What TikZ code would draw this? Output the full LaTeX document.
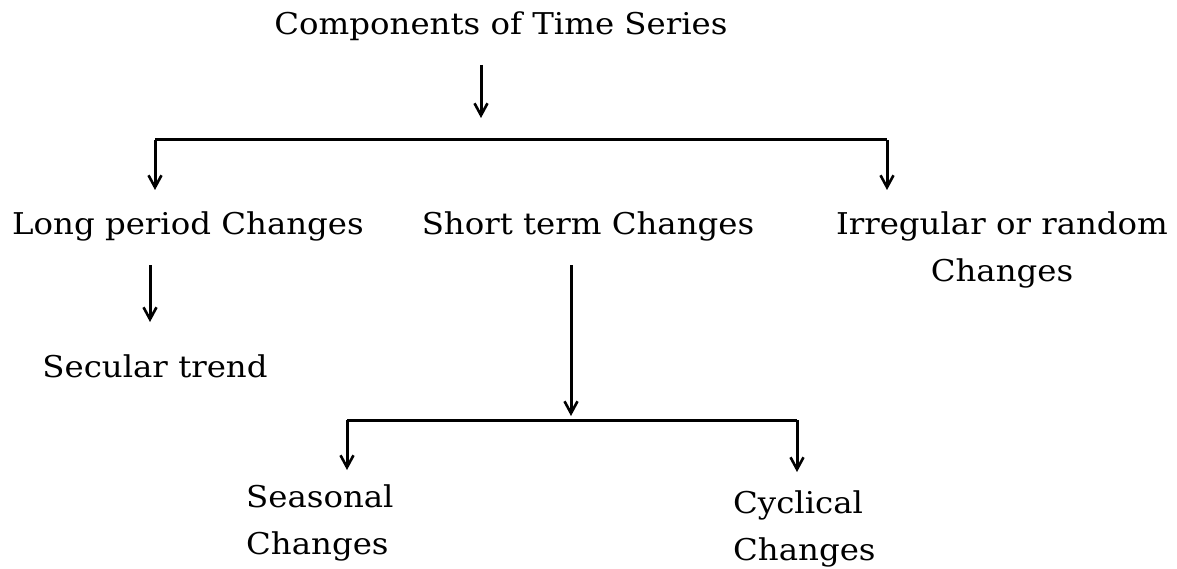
\documentclass[tikz,border=0pt]{standalone}
\usepackage{fontspec}
\setmainfont[FakeStretch=1.08]{DejaVu Serif}
\usetikzlibrary{arrows.meta}
\tikzset{
  lbl/.style={inner sep=0pt, anchor=base, font=\fontsize{30}{47}\selectfont},
  lbl2/.style={inner sep=0pt, align=left, font=\fontsize{30}{47}\selectfont},
  conn/.style={line width=3pt},
  arr/.style={conn, -{Straight Barb[length=12pt,width=13pt,line width=2.6pt]}}
}
\begin{document}
\begin{tikzpicture}[x=1pt,y=-1pt]
\useasboundingbox (0,0) rectangle (1177,569);
\node[lbl] (top) at (501,35) {Components of Time Series};
\node[lbl] (lp) at (188,235) {Long period Changes};
\node[lbl] (st) at (588,235) {Short term Changes};
\node[lbl2, anchor=north, align=center] (ir) at (1002,212) {Irregular or random\\Changes};
\node[lbl] (sec) at (155,377) {Secular trend};
\node[lbl2, anchor=north west] (sea) at (246,485) {Seasonal\\Changes};
\node[lbl2, anchor=north west] (cyc) at (733,491) {Cyclical\\Changes};
\coordinate (a1) at (481,65);
\coordinate (b1) at (481,118);
\coordinate (bl) at (155,140);
\coordinate (br) at (887,140);
\coordinate (blo) at (155,190);
\coordinate (bro) at (887,190);
\coordinate (lps) at (150,265);
\coordinate (lpe) at (150,322);
\coordinate (sts) at (571,265);
\coordinate (ste) at (571,416);
\coordinate (bsl) at (347,420);
\coordinate (bsr) at (797,420);
\coordinate (bslo) at (347,470);
\coordinate (bsro) at (797,472);
\draw[arr] (a1) -- (b1);
\draw[conn] (bl) -- (br);
\draw[arr] (bl) -- (blo);
\draw[arr] (br) -- (bro);
\draw[arr] (lps) -- (lpe);
\draw[arr] (sts) -- (ste);
\draw[conn] (bsl) -- (bsr);
\draw[arr] (bsl) -- (bslo);
\draw[arr] (bsr) -- (bsro);
\end{tikzpicture}
\end{document}
